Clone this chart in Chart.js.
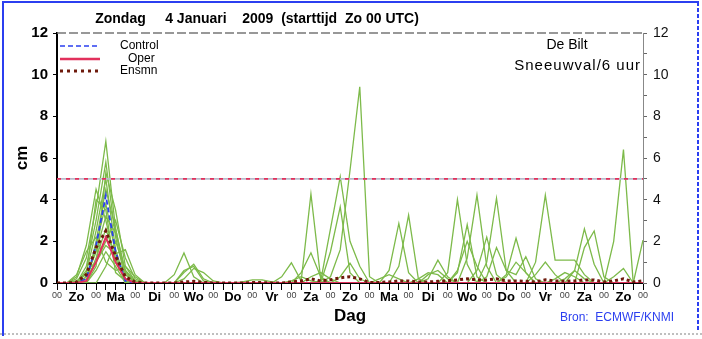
<!DOCTYPE html>
<html>
<head>
<meta charset="utf-8">
<script src="https://cdn.jsdelivr.net/npm/chart.js@4/dist/chart.umd.min.js"></script>
<style>
  html, body { margin: 0; padding: 0; background: #fff; }
  #wrap { width: 702px; height: 339px; }
</style>
</head>
<body>
<div id="wrap"><canvas id="plume" width="702" height="339"></canvas></div>
<script>
// 6-hourly snowfall (cm), De Bilt, run Zo 4 Jan 2009 00 UTC
const days = ['Zo', 'Ma', 'Di', 'Wo', 'Do', 'Vr', 'Za', 'Zo', 'Ma', 'Di', 'Wo', 'Do', 'Vr', 'Za', 'Zo'];
const steps = Array.from({ length: 61 }, (_, i) => i); // 0..60, every 6 h
const yTicks = [0, 2, 4, 6, 8, 10, 12];
const thresholdLevel = 5;

const control = [
  0,0,0,0.2,  1.8,4.2,1.5,0.1,  0,0,0,0,  0,0,0,0,  0,0,0,0,
  0,0,0,0,  0,0,0,0,  0,0,0,0,  0,0,0,0,  0,0,0,0,
  0,0,0,0,  0,0,0,0,  0,0,0,0,  0,0,0,0,  0,0,0,0,
  0];
const oper = [
  0,0,0,0.1,  1.0,2.2,1.0,0.2,  0,0,0,0,  0,0,0,0,  0,0,0,0,
  0,0,0,0,  0,0,0,0,  0,0,0,0,  0,0,0,0,  0,0,0,0,
  0,0,0,0,  0,0,0,0,  0,0,0,0,  0,0,0,0,  0,0,0,0,
  0];
const ensmean = [
  0,0,0.05,0.4,  1.7,2.5,1.3,0.3,  0.05,0,0,0,  0,0.05,0.08,0.03,  0,0,0,0,
  0.02,0.02,0,0,  0.05,0.1,0.2,0.1,  0.15,0.25,0.3,0.2,  0.02,0.03,0.05,0.1,  0.1,0.05,0.05,0.08,
  0.1,0.15,0.2,0.15,  0.15,0.2,0.1,0.1,  0.08,0.05,0.15,0.1,  0.08,0.1,0.15,0.15,  0.05,0.1,0.2,0.05,
  0.1];

// ensemble members (only the ones that show)
const m1 = [
  0,0,0.2,1.2,  3.6,6.8,2.6,0.4,  0,0,0,0,  0,0,0,0,  0,0,0,0,
  0,0,0,0,  0,0.5,1.45,0.3,  0,0,0,0,  0,0,0,0,  0,0,0,0,
  0.5,4.0,0.9,0,  0,0,0,0,  0,0,0,0,  0,0,0,0,  0,2.0,6.4,0,
  0];
const m2 = [
  0,0,0,0.8,  3.0,5.8,2.2,0.2,  0,0,0,0,  0,0,0,0,  0,0,0,0,
  0,0,0,0,  0,0,0,0.1,  2.6,5.1,2.0,0.8,  0,0,0,0,  0,0,0,0,
  0,0,1.2,4.22,  0.8,0,0,0,  0,0,0,0,  0,0.6,2.6,0.9,  0,0,0,0,
  0];
const m3 = [
  0,0,0,0.5,  2.5,5.0,1.6,0.1,  0,0,0,0,  0,0,0,0,  0,0,0,0,
  0,0,0,0,  0,0,0,0,  0.3,1.6,5.4,9.42,  0.3,0,0,0,  0,0,0,0,
  0,0,0,0,  1.0,4.07,0.6,0,  0,0,0,0,  0,0,0,0,  0,0,0,0,
  0];
const m4 = [
  0,0,0,0,  2.0,4.5,2.6,0.5,  0,0,0,0,  0.4,1.44,0.3,0,  0,0,0,0,
  0,0,0,0.3,  0.97,0.1,4.27,0.2,  0,0,0,0,  0,0,0,0,  0,0,0.2,1.1,
  0.3,0,0,0,  0,0,0,0,  0,0,0,0,  0,0,0,0,  0,0,0,0,
  0];
const m5 = [
  0,0,0,0,  1.8,3.8,1.4,0,  0,0,0,0,  0,0.5,0.9,0.2,  0,0,0,0,
  0,0,0,0,  0,0,0,0,  1.5,3.66,0.5,0,  0,0,0.6,2.86,  0.5,0,0,0,
  0,0,0,0,  0,0,0,0,  0,1.0,4.22,1.1,  1.1,1.1,0.4,0,  0,0,0,0,
  0];
const m6 = [
  0,0,0,0.3,  1.5,3.2,2.4,0.6,  0,0,0,0,  0,0.6,0.8,0.1,  0,0,0,0,
  0,0,0,0,  0,0,0,0,  0,0,0,0,  0,0,0,0.8,  3.26,0.2,0,0,
  0,0.5,2.8,0.3,  0,0,0.4,2.15,  0.5,0,0,0,  0,0,1.7,2.5,  0.3,0,0,0,
  0];
const m7 = [
  0,0,0,0,  1.2,2.6,1.2,0,  0,0,0,0,  0,0,0,0,  0,0,0,0,
  0,0,0,0,  0,0,0,0,  0,0.3,0.95,0.2,  0,0,0,0,  0,0,0.4,0.6,
  0.2,0,0,0.6,  2.2,0.4,0,0,  0,0,0,0,  0,0,0,0,  0,0.3,0.7,0,
  2.06];
const m8 = [
  0,0,0,0,  0.6,1.5,0.8,0,  0,0,0,0,  0,0,0,0,  0,0,0,0.05,
  0.15,0.15,0.05,0,  0,0,0,0,  0,0,0,0,  0,0,0,0,  0,0,0,0,
  0,0,0,0,  0.3,1.7,0.6,0.4,  1.26,0.2,0,0,  0,0,0,0,  0,0,0,0,
  0];
const m9 = [
  0,0,0,0,  0,0.8,2.0,0.6,  0.1,0,0,0,  0,0.2,0.7,0.5,  0.1,0,0,0,
  0,0,0,0,  0.1,0.3,0.1,0,  0,0,0,0,  0,0,0,0,  0,0.2,0.5,0.4,
  0,0,0,0,  0,0,0,0,  0,0,0,0.2,  0.5,0.3,0,0,  0,0,0,0,
  0];
const m10 = [
  0,0,0.3,1.8,  4.5,3.0,1.0,0.2,  0,0,0,0,  0,0,0,0,  0,0,0,0,
  0,0,0,0,  0,0,0,0,  0,0,0,0,  0,0.2,0.4,0.2,  0,0,0,0,
  0,0.6,2.0,0.8,  0,0,0,0,  0,0.4,1.0,0.4,  0,0,0,0,  0,0,0,0,
  0];
const m11 = [
  0,0,0,0,  0.8,5.3,3.5,0.8,  0.1,0,0,0,  0,0,0,0,  0,0,0,0,
  0,0,0,0,  0,0,0,0,  0,0,0,0,  0,0,0,0,  0,0,0,0,
  0,0,0,0,  0,0,0.3,1.0,  0.5,0,0,0,  0.2,0.6,0.2,0,  0,0,0,0,
  0];
const m12 = [
  0,0,0,0.2,  1.0,2.0,3.0,1.2,  0.2,0,0,0,  0,0,0,0,  0,0,0,0,
  0,0,0,0,  0,0,0.3,0.5,  0.2,0,0,0,  0,0,0,0,  0,0,0,0,
  0,0,0,0,  0,0,0,0,  0,0,0,0,  0,0,0,0,  0,0,0,0,
  0];
const m13 = [
  0,0,0.4,1.5,  2.2,1.0,0.6,0.8,  0.3,0,0,0,  0,0,0,0,  0,0,0,0,
  0,0,0,0,  0,0,0,0,  0,0,0,0,  0,0,0,0,  0,0,0,0,
  0,0,0,0,  0,0,0,0,  0,0,0,0,  0,0,0,0,  0,0,0,0,
  0];
const m14 = [
  0,0,0,0.6,  1.0,1.8,1.4,1.6,  0.4,0,0,0,  0,0,0,0,  0,0,0,0,
  0,0,0,0,  0,0,0,0,  0,0,0,0,  0,0,0,0,  0,0,0,0,
  0,0,0,0,  0,0,0,0,  0,0,0,0,  0,0,0,0,  0,0,0,0,
  0];
const m15 = [
  0,0,0.1,0.4,  4.0,3.5,0.5,0.1,  0,0,0,0,  0,0,0,0,  0,0,0,0,
  0,0,0,0,  0,0,0,0,  0,0,0,0,  0,0,0,0,  0,0,0,0,
  0,0,0,0,  0,0,0,0,  0,0,0,0,  0,0,0,0,  0,0,0,0,
  0];
const members = [m1, m2, m3, m4, m5, m6, m7, m8, m9, m10, m11, m12, m13, m14, m15];

const FONT = "'Liberation Sans', Arial, sans-serif";
const GREEN = '#7dba4a';
const BLUE = '#2b3ff0';
const RED = '#e2305c';
const DARKRED = '#6e1a0c';

function line(data, color, width, dash, order) {
  return {
    data: data,
    borderColor: color,
    borderWidth: width,
    borderDash: dash,
    pointRadius: 0,
    tension: 0,
    fill: false,
    order: order
  };
}

const datasets = [];
members.forEach(m => datasets.push(line(m, GREEN, 1.3, [], 6)));
// threshold: gray base with red dashes on top
const thr = steps.map(() => thresholdLevel);
datasets.push(line(thr, '#b8bccc', 1.6, [], 5));
datasets.push(line(thr, RED, 1.6, [4, 5], 4));
datasets.push(line(control, BLUE, 1.8, [5, 3], 3));
datasets.push(line(oper, RED, 2, [], 2));
datasets.push(line(ensmean, DARKRED, 3, [3, 3], 1));

// titles, legend, frame
const decor = {
  id: 'decor',
  afterDraw(chart) {
    const ctx = chart.ctx;
    const a = chart.chartArea;
    ctx.save();

    // dashed top border of the plot
    ctx.strokeStyle = '#777';
    ctx.lineWidth = 1.5;
    ctx.setLineDash([9, 3]);
    ctx.beginPath();
    ctx.moveTo(a.left, a.top);
    ctx.lineTo(a.right, a.top);
    ctx.stroke();
    ctx.setLineDash([]);

    ctx.fillStyle = '#000';
    ctx.textBaseline = 'middle';

    ctx.font = 'bold 14px ' + FONT;
    ctx.textAlign = 'center';
    ctx.fillText('Zondag     4 Januari    2009  (starttijd  Zo 00 UTC)', 257, 19);

    ctx.font = '14px ' + FONT;
    ctx.fillText('De Bilt', 567, 45);
    ctx.textAlign = 'right';
    ctx.font = '15px ' + FONT;
    ctx.letterSpacing = '1px';
    ctx.fillText('Sneeuwval/6 uur', 641, 66);
    ctx.letterSpacing = '0px';

    ctx.textAlign = 'center';
    ctx.font = 'bold 17px ' + FONT;
    ctx.fillText('Dag', 350, 316);

    ctx.save();
    ctx.translate(22, 158);
    ctx.rotate(-Math.PI / 2);
    ctx.fillText('cm', 0, 0);
    ctx.restore();

    ctx.fillStyle = BLUE;
    ctx.font = '12px ' + FONT;
    ctx.textAlign = 'left';
    ctx.fillText('Bron:  ECMWF/KNMI', 560, 318);

    // legend
    const lg = [
      ['Control', BLUE, 1.5, [5, 3], 46],
      ['Oper', RED, 2.5, [], 59],
      ['Ensmn', DARKRED, 3, [3, 4], 71]
    ];
    lg.forEach(([label, color, w, dash, y]) => {
      ctx.strokeStyle = color;
      ctx.lineWidth = w;
      ctx.setLineDash(dash);
      ctx.beginPath();
      ctx.moveTo(60, y);
      ctx.lineTo(100, y);
      ctx.stroke();
      ctx.setLineDash([]);
      ctx.fillStyle = '#000';
      ctx.font = '12px ' + FONT;
      ctx.textAlign = 'left';
      ctx.fillText(label, label === 'Oper' ? 128 : 120, y);
    });

    // page frame
    ctx.strokeStyle = BLUE;
    ctx.lineWidth = 2;
    ctx.beginPath();
    ctx.moveTo(3, 336);
    ctx.lineTo(3, 2);
    ctx.lineTo(699, 2);
    ctx.stroke();
    ctx.setLineDash([4, 2]);
    ctx.beginPath();
    ctx.moveTo(698, 2);
    ctx.lineTo(698, 330);
    ctx.stroke();
    ctx.strokeStyle = '#aaa';
    ctx.lineWidth = 1.5;
    ctx.setLineDash([2, 2]);
    ctx.beginPath();
    ctx.moveTo(0, 334);
    ctx.lineTo(702, 334);
    ctx.stroke();
    ctx.restore();
  }
};

new Chart(document.getElementById('plume'), {
  type: 'line',
  data: { labels: steps, datasets: datasets },
  options: {
    responsive: false,
    animation: false,
    devicePixelRatio: 1,
    layout: { padding: { top: 33, left: 0, right: 0, bottom: 0 } },
    plugins: { legend: { display: false }, tooltip: { enabled: false } },
    scales: {
      x: {
        type: 'category',
        offset: false,
        afterFit: s => { s.height = 56; },
        grid: { drawOnChartArea: false, tickLength: 7, color: '#000', lineWidth: 1 },
        border: { color: '#000', width: 2 },
        ticks: {
          autoSkip: false,
          maxRotation: 0,
          padding: 0,
          color: c => (c.index % 4 === 0 ? '#444' : '#000'),
          font: c => (c.index % 4 === 0
            ? { family: FONT, size: 9 }
            : { family: FONT, size: 13, weight: 'bold' }),
          callback: (v, i) => {
            if (i % 4 === 0) return '00';
            if (i % 4 === 2) return days[(i - 2) / 4];
            return '';
          }
        }
      },
      y: {
        position: 'left',
        min: 0,
        max: 12,
        afterFit: s => { s.width = 57; },
        grid: { drawOnChartArea: false, tickLength: 4, color: '#000' },
        border: { color: '#000', width: 2 },
        ticks: {
          stepSize: 1,
          padding: 5,
          color: '#000',
          font: { family: FONT, size: 15, weight: 'bold' },
          callback: v => (yTicks.includes(v) ? v : '')
        }
      },
      y2: {
        position: 'right',
        min: 0,
        max: 12,
        afterFit: s => { s.width = 59; },
        grid: { drawOnChartArea: false, tickLength: 4, color: '#666' },
        border: { color: '#888', width: 1 },
        ticks: {
          stepSize: 1,
          padding: 6,
          color: '#111',
          font: { family: FONT, size: 14 },
          callback: v => (yTicks.includes(v) ? v : '')
        }
      }
    }
  },
  plugins: [decor]
});
</script>
</body>
</html>
